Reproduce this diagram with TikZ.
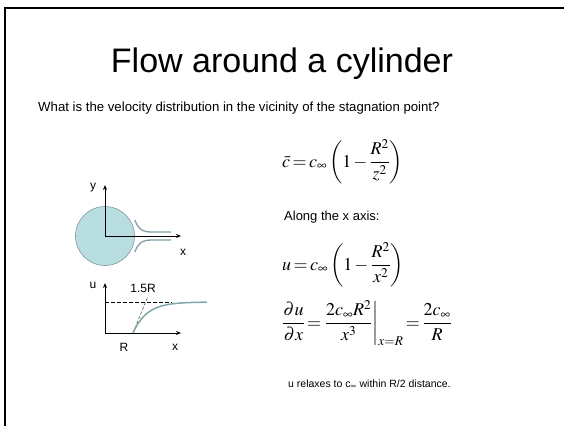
\documentclass[tikz,border=0pt]{standalone}
\usepackage{mathptmx}
\usepackage[no-math]{fontspec}
\setmainfont{Liberation Sans}
\usetikzlibrary{arrows.meta}
\definecolor{cylfill}{RGB}{184,222,226}
\definecolor{cyledge}{RGB}{128,150,150}
\definecolor{stream}{RGB}{125,160,165}
\definecolor{curvecol}{RGB}{130,165,168}
\newcommand\myeqsp{\thickmuskip=2.5mu\relax\medmuskip=2mu\relax}
\tikzset{
  axisline/.style={-{Stealth[length=5pt,width=4pt]}, line width=0.8pt, black},
  lbl/.style={font=\fontsize{12}{14}\selectfont, inner sep=0pt},
  eqn/.style={anchor=base west, inner sep=0pt, font=\fontsize{18}{20}\selectfont},
  txt/.style={anchor=base west, inner sep=0pt},
  streamline/.style={draw=stream, line width=1.3pt},
}
\begin{document}
\begin{tikzpicture}[x=1pt,y=-1pt]
\useasboundingbox (0,0) rectangle (564,426);
% frame
\draw[line width=2pt] (564,8) -- (5,8) -- (5,426);
% title
\node[inner sep=0pt, anchor=base, font=\fontsize{34}{40}\selectfont] (title) at (282,72) {Flow around a cylinder};
\node[txt, font=\fontsize{13.2}{15}\selectfont] (question) at (38,111) {What is the velocity distribution in the vicinity of the stagnation point?};
% cylinder
\coordinate (O) at (105,236);
\coordinate (ytip) at (105,185);
\coordinate (xtip) at (181,236);
\node[circle, fill=cylfill, draw=cyledge, line width=0.6pt, minimum size=59pt, inner sep=0pt] (cyl) at (O) {};
\draw[streamline] (135,220) .. controls (138,229) and (142,232) .. (152,232) -- (171,232);
\draw[streamline] (135,252) .. controls (138,243) and (142,240) .. (152,240) -- (171,240);
\draw[axisline] (O) -- (ytip);
\draw[axisline] (O) -- (xtip);
\node[lbl] (ylab) at (93,188) {y};
\node[lbl] (xlab) at (183,252) {x};
% graph
\coordinate (G) at (105,333);
\coordinate (utip) at (105,283);
\coordinate (gxtip) at (181,333);
\coordinate (Rpt) at (133,333);
\coordinate (tan) at (148,296);
\draw[axisline] (G) -- (utip);
\draw[axisline] (G) -- (gxtip);
\draw[dashed, line width=0.6pt, dash pattern=on 4pt off 2pt] (105,302) -- (172,302);
\draw[dashed, line width=0.6pt, gray!70!black, dash pattern=on 3pt off 2pt] (Rpt) -- (tan);
\draw[curvecol, line width=1.5pt] plot[domain=1:3.64, samples=60, smooth] ({105+28*\x},{333-31*(1-exp(-2*(\x-1)))});
\node[lbl] (ulab) at (93,285) {u};
\node[lbl] (lab15) at (143,288) {1.5R};
\node[lbl] (Rlab) at (124,347) {R};
\node[lbl] (gxlab) at (175,347) {x};
% equations
\node[eqn] (eq1) at (282,167) {$\myeqsp\displaystyle \bar{c}=c_{\infty}\left(1-\frac{R^{2}}{z^{2}}\right)$};
\node[txt, font=\fontsize{13}{15}\selectfont] (along) at (284,220) {Along the x axis:};
\node[eqn] (eq2) at (282,270) {$\myeqsp\displaystyle u=c_{\infty}\left(1-\frac{R^{2}}{x^{2}}\right)$};
\node[eqn] (eq3) at (282,328) {$\myeqsp\displaystyle \frac{\partial u}{\partial x}=\left.\frac{2c_{\infty}R^{2}}{x^{3}}\right|_{x=R}=\frac{2c_{\infty}}{R}$};
\node[txt, font=\fontsize{10.5}{12}\selectfont] (relax) at (288,387) {u relaxes to c\textsubscript{$\infty$} within R/2 distance.};
\end{tikzpicture}
\end{document}
